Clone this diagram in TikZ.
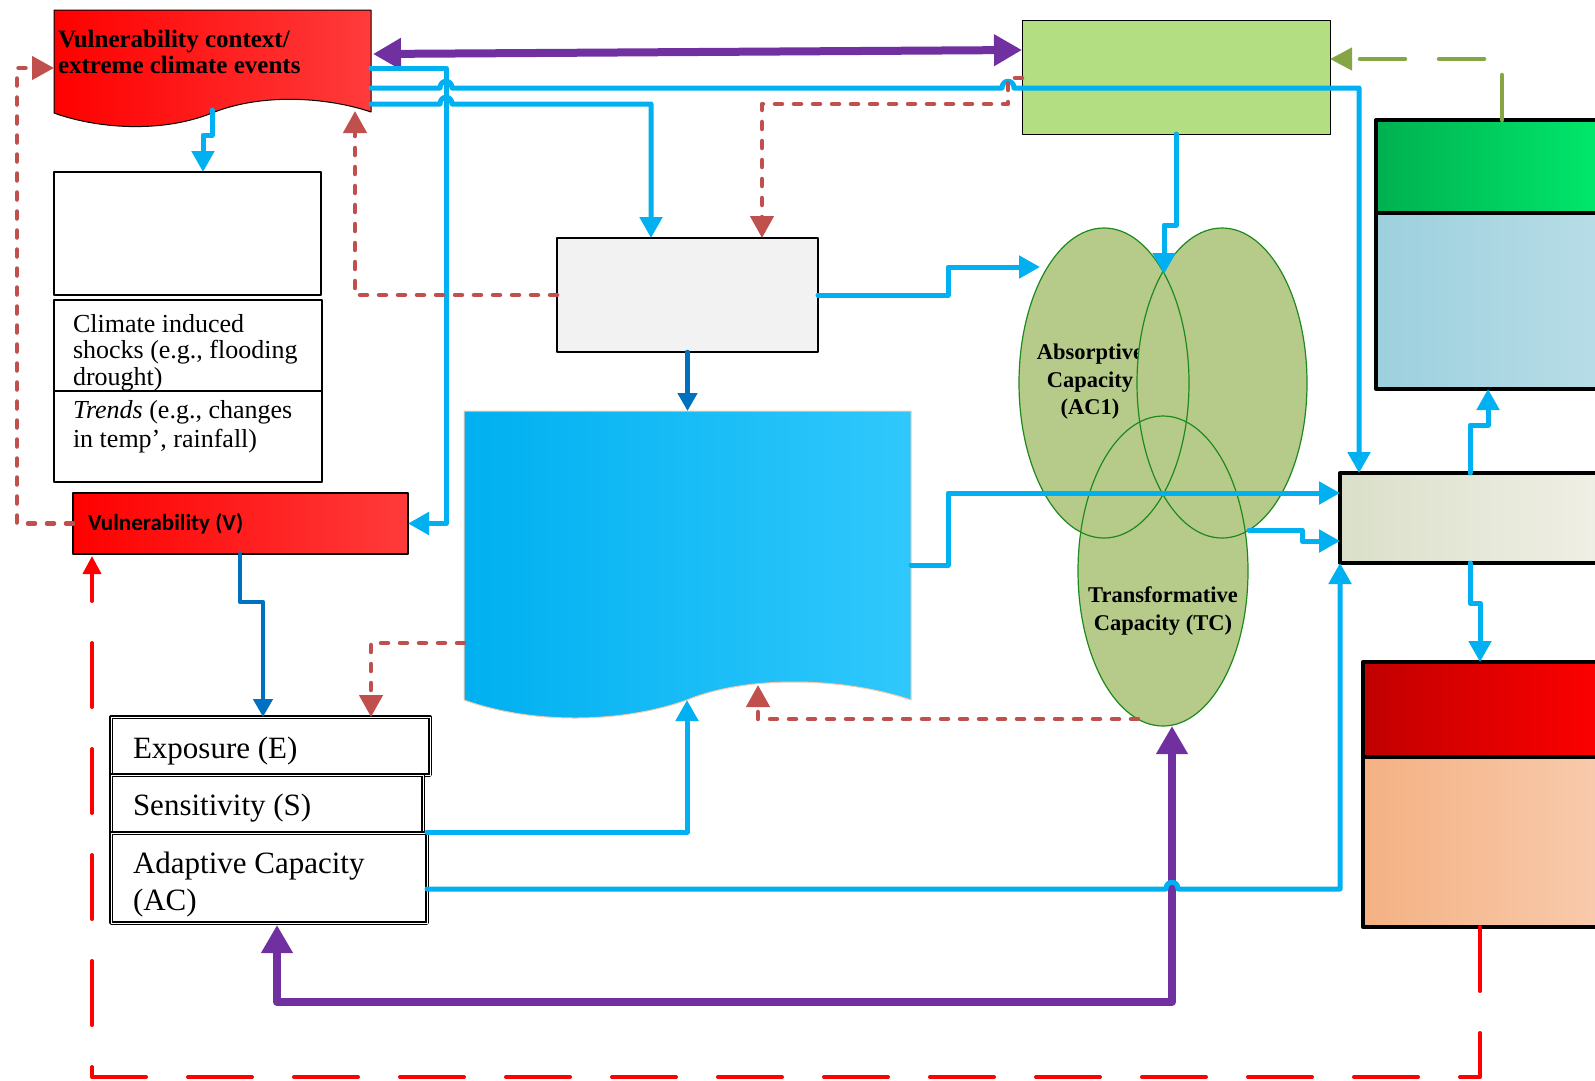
\documentclass[tikz,border=0pt]{standalone}
\usepackage{fontspec}
\usetikzlibrary{arrows.meta,calc,shapes.geometric}
\newfontfamily\tnr{Liberation Serif}
\newfontfamily\calfont{Carlito}
\definecolor{cblue}{HTML}{00B0F0}
\definecolor{cdblue}{HTML}{0070C0}
\definecolor{cpurple}{HTML}{7030A0}
\definecolor{cbrown}{HTML}{C0504D}
\definecolor{colive}{HTML}{86A544}
\definecolor{cred}{HTML}{FF0000}
\definecolor{redA}{HTML}{FF0000}
\definecolor{redB}{HTML}{FF3B3B}
\definecolor{gboxc}{HTML}{B3DE81}
\definecolor{midc}{HTML}{F2F2F2}
\definecolor{ellc}{HTML}{B6CB89}
\definecolor{elld}{HTML}{1E8A1E}
\definecolor{bigA}{HTML}{00B0F0}
\definecolor{bigB}{HTML}{30C8FC}
\definecolor{bigE}{HTML}{F8CBAD}
\definecolor{rgA}{HTML}{00B050}
\definecolor{rgB}{HTML}{00EA6C}
\definecolor{lbA}{HTML}{9DD0DE}
\definecolor{lbB}{HTML}{B8DDE7}
\definecolor{bgA}{HTML}{DADFC9}
\definecolor{bgB}{HTML}{F0F0E6}
\definecolor{rdA}{HTML}{C00000}
\definecolor{rdB}{HTML}{FF0000}
\definecolor{pcA}{HTML}{F4B183}
\definecolor{pcB}{HTML}{F8CBAD}
\tikzset{
  box/.style={rectangle, inner sep=0pt, outer sep=0pt, anchor=north west},
  txt/.style={inner sep=0pt, outer sep=0pt, anchor=base west},
  ctxf/.style={font=\tnr\bfseries\fontsize{25}{26}\selectfont},
  serf/.style={font=\tnr\fontsize{26}{27}\selectfont},
  bigserf/.style={font=\tnr\fontsize{31}{36}\selectfont},
  ellt/.style={font=\tnr\bfseries\fontsize{22.5}{28}\selectfont, inner sep=0pt, outer sep=0pt, anchor=base},
  ellf/.style={ellipse, fill=ellc, minimum width=170pt, minimum height=310pt, inner sep=0pt, outer sep=0pt},
  ello/.style={ellipse, draw=elld, line width=1.2pt, minimum width=170pt, minimum height=310pt, inner sep=0pt, outer sep=0pt},
  dbox/.style={box, draw=black, double, double distance=1pt, line width=1.2pt, fill=white},
  bl/.style={cblue, line width=5pt, line cap=round, -{Triangle[length=21pt,width=22pt]}},
  dbl/.style={cdblue, line width=4.5pt, line cap=round, -{Triangle[length=18pt,width=19pt]}},
  br/.style={cbrown, line width=4.5pt, line cap=round, dash pattern=on 7pt off 12pt, -{Triangle[length=22pt,width=23pt]}},
  pu/.style={cpurple, line width=8pt, line cap=round, {Triangle[length=28pt,width=30pt]}-{Triangle[length=28pt,width=30pt]}},
  gd/.style={colive, line width=4.5pt, line cap=round, dash pattern=on 45pt off 34pt, -{Triangle[length=22pt,width=22pt]}},
  rdash/.style={cred, line width=4pt, line cap=round, dash pattern=on 64pt off 42pt, -{Triangle[length=18pt,width=18pt]}},
}
\begin{document}
\begin{tikzpicture}[x=1pt, y=-1pt, line join=round]
\useasboundingbox (0,0) rectangle (1595,1080);
\clip (0,0) rectangle (1595,1080);
\fill[white] (0,0) rectangle (1595,1080);

% ---------- vulnerability context (wave box)
\node[box, minimum width=317pt, minimum height=102pt] (ctx) at (54,10) {};
\shadedraw[left color=redA, right color=redB, draw=black, line width=1pt]
  (54,10) -- (371,10) -- (371,112) .. controls (330,98) and (264,92) .. (212,113)
  .. controls (160,134) and (95,128) .. (54,113) -- cycle;
\node[txt, ctxf] (ctx1) at (58,47) {Vulnerability context/};
\node[txt, ctxf] (ctx2) at (58,73) {extreme climate events};

% ---------- left boxes
\node[box, draw=black, line width=2pt, fill=white, minimum width=267pt, minimum height=123pt] (empty) at (54,172) {};
\node[box, draw=black, line width=2pt, fill=white, minimum width=268pt, minimum height=92pt] (climate) at (54,300) {};
\node[txt, serf] (cl1) at (73,332) {Climate induced};
\node[txt, serf] (cl2) at (73,358) {shocks (e.g., flooding};
\node[txt, serf] (cl3) at (73,385) {drought)};
\node[box, draw=black, line width=2pt, fill=white, minimum width=268pt, minimum height=91pt] (trends) at (54,391) {};
\node[txt, serf] (tr1) at (73,418) {\textit{Trends} (e.g., changes};
\node[txt, serf] (tr2) at (73,447) {in temp’, rainfall)};

\node[box, draw=black, line width=1.2pt, left color=redA, right color=redB, minimum width=335pt, minimum height=61pt] (vul) at (73,493) {};
\node[txt, font=\calfont\bfseries\fontsize{23}{26}\selectfont] (vult) at (88,530) {Vulnerability (V)};

% ---------- E / S / AC boxes
\node[dbox, minimum width=319pt, minimum height=58pt] (ex) at (111,717) {};
\node[dbox, minimum width=312pt, minimum height=58pt] (se) at (111,775) {};
\node[dbox, minimum width=316pt, minimum height=90pt] (ac) at (111,833) {};
\node[txt, bigserf] (ext) at (133,758) {Exposure (E)};
\node[txt, bigserf] (set) at (133,815) {Sensitivity (S)};
\node[txt, bigserf] (act1) at (133,873) {Adaptive Capacity};
\node[txt, bigserf] (act2) at (133,910) {(AC)};

% ---------- middle boxes
\node[box, draw=black, line width=1.2pt, fill=midc, minimum width=261pt, minimum height=114pt] (mid) at (557,238) {};
\node[box, minimum width=447pt, minimum height=289pt] (bigb) at (464,411) {};
\shadedraw[left color=bigA, right color=bigB, draw=bigE, line width=1pt]
  (464,411) -- (911,411) -- (911,700) .. controls (840,676) and (745,676) .. (687,700)
  .. controls (620,724) and (530,724) .. (464,700) -- cycle;

% ---------- top right green box
\node[box, draw=black, line width=1pt, fill=gboxc, minimum width=308pt, minimum height=114pt] (gbox) at (1022,20) {};

% ---------- ellipses
\node[ellf] (e1) at (1104,383) {};
\node[ellt] (a1) at (1090,359) {Absorptive};
\node[ellt] (a2) at (1090,387) {Capacity};
\node[ellt] (a3) at (1090,414) {(AC1)};
\node[ellf] (e2) at (1222,383) {};
\node[ellf] (e3) at (1163,571) {};
\node[ello] (e1o) at (e1) {};
\node[ello] (e2o) at (e2) {};
\node[ello] (e3o) at (e3) {};
\node[ellt] (tc1) at (1163,602) {Transformative};
\node[ellt] (tc2) at (1163,630) {Capacity (TC)};

% ---------- right boxes
\node[box, draw=black, line width=4pt, left color=rgA, right color=rgB, minimum width=230pt, minimum height=93pt] (rg) at (1376,120) {};
\node[box, draw=black, line width=4pt, left color=lbA, right color=lbB, minimum width=230pt, minimum height=176pt] (lb) at (1376,213) {};
\node[box, draw=black, line width=4pt, left color=bgA, right color=bgB, minimum width=266pt, minimum height=90pt] (bg) at (1340,473) {};
\node[box, draw=black, line width=4pt, left color=rdA, right color=rdB, minimum width=243pt, minimum height=95pt] (rd) at (1363,662) {};
\node[box, draw=black, line width=4pt, left color=pcA, right color=pcB, minimum width=243pt, minimum height=170pt] (pc) at (1363,757) {};

% ---------- connectors
\draw[pu] ($(ctx.north east)+(2,44)$) -- ($(gbox.north west)+(0,30)$);
\draw[bl] ($(ctx.north east)+(0,58)$) -- (446,68) |- (vul.east);
\draw[bl] ($(ctx.north east)+(0,78)$) -- (440,88) .. controls (440,79) and (452,79) .. (452,88)
  -- (1002,88) .. controls (1002,79) and (1014,79) .. (1014,88) -- (1359,88) -- ($(bg.north west)+(19,0)$);
\draw[bl] ($(ctx.north east)+(0,94)$) -- (440,104) .. controls (440,95) and (452,95) .. (452,104)
  -- (651,104) -- ($(mid.north west)+(94,0)$);
\draw[bl] ($(ctx.south west)+(158,-2)$) -- (212,135) -- (203,135) -- ($(empty.north west)+(149,0)$);
\draw[br] (mid.west) -| ($(ctx.south east)+(-16,-1)$);
\draw[br] (vul.west) -| (17,68) -- ($(ctx.north west)+(0,58)$);
\draw[br] ($(gbox.north west)+(0,58)$) -| (1008,104) -| ($(mid.north west)+(205,0)$);
\draw[dbl] (mid.south) -- (mid.south |- bigb.north);
\draw[bl] (mid.east) -| (948,267) -- ($(e1.west)+(21,-116)$);
\draw[bl] (gbox.south) -- ++(0,91) -| ($(e1.north)+(60,46)$);
\draw[bl] ($(bigb.north east)+(0,154)$) -- (948,565) -- (948,493) -- ($(bg.north west)+(0,20)$);
\draw[bl] ($(e2.south)+(27,-8)$) -- (1302,530) -- (1302,541) -- ($(bg.north west)+(0,68)$);
\draw[bl] ($(se.south east)+(4,-1)$) -| ($(bigb.south west)+(223,0)$);
\draw[pu] ($(ac.south west)+(166,2)$) -- (277,1002) -- (1172,1002) -- ($(e3.south)+(9,0)$);
\draw[bl] ($(ac.north east)+(0,56)$) -- (1166,889) .. controls (1166,880) and (1178,880) .. (1178,889) -| (bg.south west);
\draw[dbl] ($(vul.south west)+(167,0)$) -- (240,602) -- (263,602) -- ($(ex.north west)+(152,0)$);
\draw[br] ($(bigb.north west)+(0,232)$) -| ($(ex.north west)+(260,0)$);
\draw[br] ($(e3.south)+(-25,-7)$) -| ($(bigb.south west)+(294,-15)$);
\draw[bl] ($(bg.north west)+(130,0)$) -- (1470,425) -- (1488,425) -- ($(lb.south west)+(112,0)$);
\draw[bl] ($(bg.south west)+(130,0)$) -- (1470,603) -- (1480,603) -- ($(rd.north west)+(117,0)$);
\draw[gd] ($(rg.north west)+(126,0)$) |- ($(gbox.north east)+(0,39)$);
\draw[rdash] ($(pc.south west)+(117,0)$) -- (1480,1077) -| ($(vul.south west)+(19,2)$);
\end{tikzpicture}
\end{document}
